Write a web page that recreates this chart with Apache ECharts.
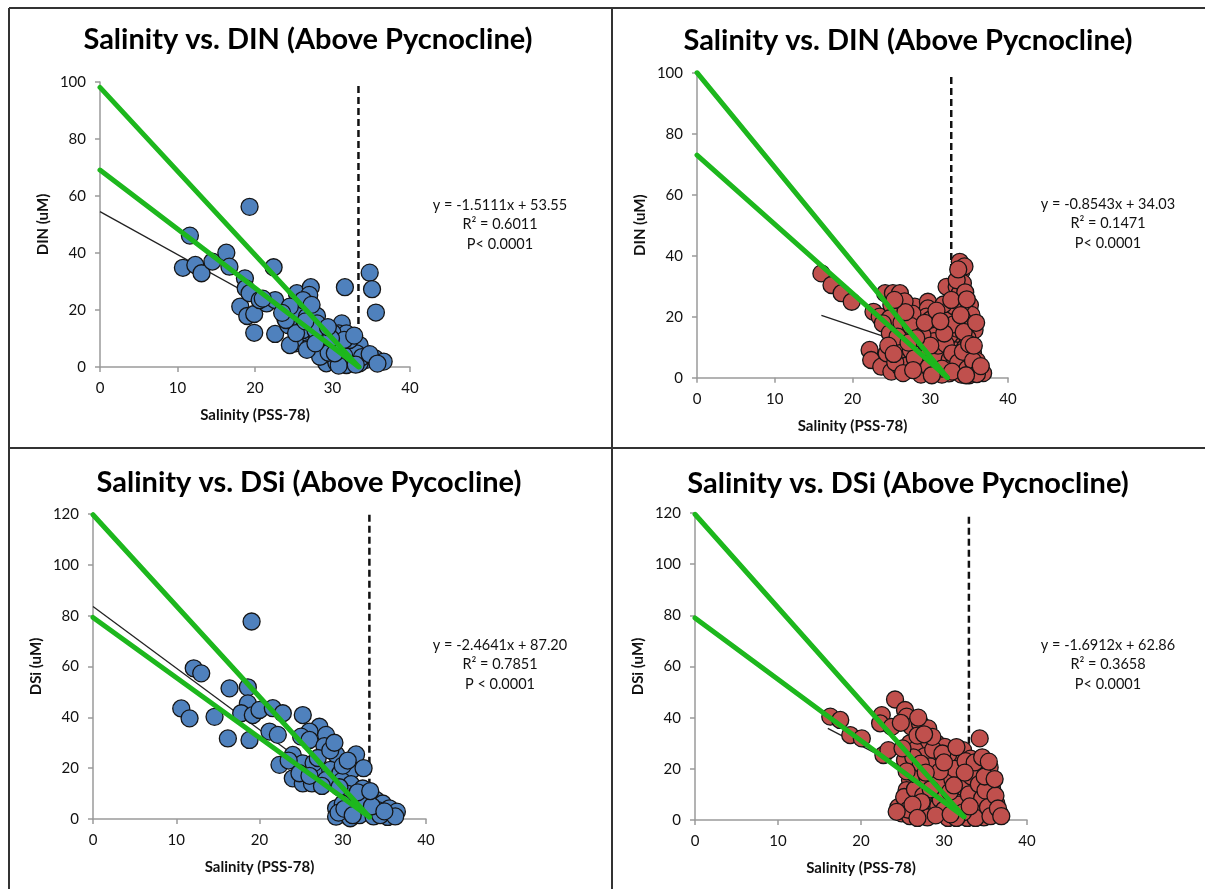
<!DOCTYPE html>
<html>
<head>
<meta charset="utf-8">
<script src="https://cdn.jsdelivr.net/npm/echarts@6/dist/echarts.min.js"></script>
<style>
  html, body { margin: 0; padding: 0; background: #fff; }
  #chart { width: 1205px; height: 889px; }
</style>
</head>
<body>
<div id="chart"></div>
<script>
// Panel titles and regression texts
var titles = [
    'Salinity vs. DIN (Above Pycnocline)',
    'Salinity vs. DIN (Above Pycnocline)',
    'Salinity vs. DSi (Above Pycocline)',
    'Salinity vs. DSi (Above Pycnocline)'
];
var yNames = ['DIN (uM)', 'DIN (uM)', 'DSi (uM)', 'DSi (uM)'];
var eqTexts = [
    ['y = -1.5111x + 53.55', 'R\u00b2 = 0.6011', 'P< 0.0001'],
    ['y = -0.8543x + 34.03', 'R\u00b2 = 0.1471', 'P< 0.0001'],
    ['y = -2.4641x + 87.20', 'R\u00b2 = 0.7851', 'P < 0.0001'],
    ['y = -1.6912x + 62.86', 'R\u00b2 = 0.3658', 'P< 0.0001']
];
var yMaxes = [100, 100, 120, 120];

// Scatter points [salinity, concentration]
var dinAboveA = [
    [19.3,56.2],[11.6,46.1],[10.7,34.8],[12.3,35.8],[13.1,32.9],[14.5,37],[16.3,40.1],[16.7,35.2],
    [22.4,35],[18.7,31.1],[18.8,27.6],[18.1,21.2],[19,17.9],[19.9,18.6],[19.9,12],[22.6,11.6],
    [21.5,22.3],[22.6,23.5],[19.3,25.9],[20.6,23.5],[25.4,25.9],[27.2,28],[27,25.3],[25.8,22.3],
    [24.7,20],[23.9,17.1],[25.4,19.4],[26.7,17.6],[28,17.9],[24.3,14.7],[25.4,11.8],[26.7,10.6],
    [25.2,8.3],[26.9,6.6],[28.4,10.6],[29.2,7.7],[31.2,15.3],[30.8,11.8],[31.8,11.8],[31.6,28],
    [34.8,33.1],[35.1,27.3],[35.6,19.1],[30.1,6],[29.7,3],[31,2.5],[32.7,7.1],[33.5,7.7],
    [32.5,3],[34.4,2.5],[35.5,3],[36.6,1.9],[29.2,1.3],[31.8,0.7],[33.5,1.3],[26.2,23.5],
    [27.3,21.8],[24.5,21.2],[28,15.3],[26.2,13],[28,10.6],[28.8,6],[30.3,9.5],[31.2,7.1],
    [32,4.8],[33.1,4.8],[30.2,3.5],[28.4,3.6],[24.5,7.7],[26.7,6],[25.3,11.9],[24,16.5],
    [30.5,1.5],[31.5,4],[29.5,5],[32.2,9.5],[30,12],[27.8,13],[26.5,16],[21,24],[23.5,19],
    [30.8,0.5],[30.3,4.8],[31.5,9.5],[32.8,11],[33.8,3.5],[34.8,4.5],[35.8,1.2],[29.8,10],
    [29.4,14],[27.8,8.3],[33,0.8]
];
var dinAboveB = [
    [16,34.2],[17.3,30.4],[18.6,27.7],[19.9,24.9],[22.7,21.6],[23.5,20],[22.2,9.1],[22.4,5.8],
    [23.7,3.6],[25,2],[26.1,3.6],[24.2,27.7],[25.2,27.7],[26.1,27.7],[25,23.8],[26.1,21.6],
    [28,23.3],[29.7,24.9],[29.7,22.7],[28,19.5],[25.7,16.2],[26.1,12.4],[27.4,14.6],[29.1,16.7],
    [30.8,17.8],[32.1,17.3],[32.1,29.8],[33.4,29.8],[33.8,38],[34,34.8],[34.2,31],[33.8,27.7],
    [35.1,23.8],[35.3,20.6],[34.2,18.9],[35.7,15.6],[33.8,12.4],[31.9,12.4],[30.4,9.1],[28.9,9.1],
    [27.4,6.9],[28.2,3.1],[30.2,2.7],[31.2,4.7],[34.7,6.9],[35.1,4.2],[36.4,2.5],[33.4,2.5],
    [32.4,1.4],[35.8,1.4],[29.5,20],[27,18.9],[24.8,19.5],[23.9,17.8],[24.8,14.6],[27.8,10.2],
    [30.6,14.6],[26.1,6.9],[24.4,8],[29.6,6.9],[26.5,9],[27,4],[29,1.5],[30,5],[31,7.5],
    [32.5,6],[33.2,9],[34.5,10],[35.5,8],[36,5.5],[34,1],[31.5,1],[28.5,12.5],[29.5,11.5],
    [31,10.5],[32.5,14],[33.5,16],[34.8,13],[36.2,3],[33,4],[30.5,16],[28.7,16],[27.7,21],
    [26.7,25],[31.2,20.5],[32.8,21],[33.4,32],[34.5,28],[34,24],[25.5,10.5],[26.8,15],
    [36.8,1.5],[35,0.8],[29,3.5],
    [25.5,5],[26.5,1.5],[27.5,9],[28,6.5],[28.8,1],[29.8,3.5],[30.5,12],[31.5,3],[32,11],
    [32.8,8],[33.6,5],[34.2,8.5],[34.8,3],[35.5,5.5],[36,1.2],[33,17.5],[34.3,15],[35,11],
    [33,23.5],[30,19],[31.7,24],[26.3,18],[25.8,13.5],[27.5,17],[29,14],[30,10.5],[31.8,14.5],
    [32.8,2],[35.6,10.5],[34.6,0.8],[36.5,3.8],[28.2,13],[27.2,11.5],[29.3,18],[30.8,22],
    [26.8,21.5],[24.6,10.5],[25.4,25.5],[32.7,25.5],[34.7,25.7],[33.9,20.5],[35.9,18],
    [30.2,0.8],[27.8,2.5],[25.3,7.8],[31.3,18.5],[34.4,36.5],[33.6,35.5]
];
var dsiAboveA = [
    [19.05,77.7],[12.1,59.3],[13,57.3],[10.6,43.5],[11.6,39.6],[14.6,40.2],[16.4,51.4],[18.6,51.8],
    [16.2,31.7],[18.8,31.1],[18.6,45.5],[17.8,41.6],[19.2,40.9],[20,42.9],[21.6,43.6],[22.8,41.6],
    [21.2,34.4],[22.2,33.1],[25.2,40.9],[27.2,36.3],[28,33.1],[26,34.4],[25,32.4],[26,31.1],
    [27.8,28.7],[29.2,25.4],[31.6,25.4],[22.4,21.3],[24,25.2],[24,16],[25.2,14],[26.3,14],
    [25.2,21.9],[26.9,19.3],[26.5,22],[28.5,19.3],[29.7,18],[31.1,19.3],[28,15.4],[29.9,15],
    [31,13.7],[32.4,12],[33.2,8.7],[32.4,7.5],[34,7.5],[34.8,6.1],[35.6,4.2],[36.5,2.9],
    [29.2,4.2],[29.2,0.9],[30.4,2.2],[31.6,3.5],[30.9,0.3],[34.2,3.5],[35.4,0.8],[23.5,23],
    [24.8,18],[27,24],[28.5,27],[30,21],[30.5,10],[31.5,9],[33,4],[32,1.5],[33.7,1],[30,6],
    [29.6,12.5],[27.5,13],[26,17],[29,30],[32.5,20],[30.6,23],[34.5,1.5],[36.3,1],
    [29.5,2.5],[30.2,4],[31.2,1.5],[32.8,6],[33.5,5],[35,3],[31.8,10.5],[33.3,11]
];
var dsiAboveB = [
    [24.1,47.1],[16.3,40.4],[17.5,39.1],[18.7,33.2],[20.1,31.9],[22.5,41],[22.3,37.8],[22.7,25.4],
    [23.3,27.3],[23.7,36.4],[25.3,43],[25.5,40.4],[26.1,36.4],[27.1,37.8],[28.1,35.8],[27.9,30],
    [25.9,30],[25.3,23.4],[26.5,27.3],[29.1,30],[30.1,28.6],[32.3,27.3],[34.3,31.9],[29.9,20.8],
    [31.5,22.1],[28.7,16.9],[31.9,15.6],[34.7,20.8],[35.1,18.2],[34.5,22],[35.7,15.6],[26.7,20.8],
    [25.9,15.6],[25.5,11.7],[27.5,13],[29.9,11.7],[32.7,11.1],[35.3,9.1],[36.3,6.5],[25.1,6.5],
    [24.9,2.6],[25.9,1.5],[26.9,7.1],[28.3,5.2],[29.5,2.6],[31.1,4.6],[33.5,7.8],[33.5,2.6],
    [35.1,2.6],[36.7,2.6],[31.9,1.3],[27.3,2.6],[26,9],[27,4.5],[28.5,8.5],[30.5,7],[32,8.5],
    [33,14],[34,17],[35.8,12],[30.8,18],[29,24],[27.7,25],[28.3,21],[31,25],[33.2,24],
    [30.2,13.5],[28,1],[30.5,0.8],[32.5,4],[34.3,5.5],[36,3.5],[34,11],[31.7,10],[26.3,24.5],
    [24.5,5],[35.5,20.5],[33.5,19.5],[29.3,5.5],[32.8,0.8],[34.8,1],
    [25.2,9],[25.7,4],[26.5,12],[26.5,18],[27.2,22],[27.5,9.5],[28,16.5],[28.7,27.5],[29.2,15],
    [29.6,8],[30,4],[30.5,25.5],[31,16],[31.3,20],[31.8,6],[32.2,13],[32.6,23],[33,10],
    [33.3,17],[33.8,0.8],[34.2,14],[34.6,8.5],[35,11.5],[35.3,5],[35.6,1.5],[36.2,9.5],
    [36.5,4.5],[34.9,17],[33.7,22.5],[32.3,3],[31.5,0.8],[30.7,11],[29.5,19],[28.4,12],
    [27.3,7],[26.2,6],[25.5,19],[26.8,33],[28.6,32.5],[29.8,26],[31.5,28.5],[32.5,18.5],
    [34.6,24.5],[35.4,22.8],[36.1,16],[24.3,3.2],[26.8,0.8],[29,1.8],[30.8,2.2],[33.1,5.3],
    [36.9,1.5],[27.8,18.5],[30,22.5],[31.2,13.5],[25,28],[24.8,38],[26.9,40],[27.6,33.5]
];

// Line endpoints
var trendLines = [
    [[0, 54.5], [36.2, 0]],
    [[16, 20.4], [37, 2.4]],
    [[0, 83.6], [34.5, 0]],
    [[16, 35.8], [36.5, 1.1]]
];
var greenUpper = [
    [[0, 98.1], [33.4, 0]],
    [[0, 100], [32.2, 0]],
    [[0, 119.7], [33.2, 0.8]],
    [[0, 119.5], [32.4, 1.3]]
];
var greenLower = [
    [[0, 69.1], [33.4, 0]],
    [[0, 73], [32.2, 0]],
    [[0, 79.3], [33.2, 0.8]],
    [[0, 79], [32.4, 1.3]]
];
var pycnocline = [
    [[33.35, 98.6], [33.35, 0]],
    [[32.7, 98.6], [32.7, 0]],
    [[33.2, 119.7], [33.2, 0]],
    [[33.0, 118.5], [33.0, 0]]
];

var scatterData = [dinAboveA, dinAboveB, dsiAboveA, dsiAboveB];
var pointColors = ['#4F81BD', '#C0504D', '#4F81BD', '#C0504D'];

var grids = [
    { left: 100, top: 82, width: 310, height: 285 },
    { left: 697, top: 72.7, width: 311, height: 305 },
    { left: 93, top: 514, width: 333, height: 305 },
    { left: 695, top: 513, width: 332, height: 307 }
];
var titlePos = [[308, 40], [908, 41], [309, 483], [908, 484]];
var eqPos = [[500, 205], [1108, 204], [500, 645], [1108, 645]];

var FONT = 'Lato';
var axisColor = '#9a9a9a';

var xAxes = [], yAxes = [], series = [], graphics = [];

grids.forEach(function(g, i) {
    xAxes.push({
        gridIndex: i, type: 'value', min: 0, max: 40, interval: 10,
        name: 'Salinity (PSS-78)', nameLocation: 'middle', nameGap: 41,
        nameTextStyle: { fontFamily: FONT, fontWeight: 'bold', fontSize: 15, color: '#111' },
        axisLine: { lineStyle: { color: axisColor, width: 1.5 } },
        axisTick: { show: true, length: 5, lineStyle: { color: axisColor, width: 1.5 } },
        axisLabel: { margin: 14, fontFamily: FONT, fontSize: 15, color: '#111' },
        splitLine: { show: false }
    });
    yAxes.push({
        gridIndex: i, type: 'value', min: 0, max: yMaxes[i], interval: 20,
        name: yNames[i], nameLocation: 'middle', nameGap: 49, nameRotate: 90,
        nameTextStyle: { fontFamily: FONT, fontWeight: 'bold', fontSize: 15, color: '#111' },
        axisLine: { show: true, lineStyle: { color: axisColor, width: 1.5 } },
        axisTick: { show: true, length: 5, lineStyle: { color: axisColor, width: 1.5 } },
        axisLabel: { margin: 14, fontFamily: FONT, fontSize: 15, color: '#111' },
        splitLine: { show: false }
    });

    series.push({
        type: 'line', xAxisIndex: i, yAxisIndex: i, data: pycnocline[i],
        symbol: 'none', z: 1, silent: true,
        lineStyle: { color: '#111', width: 2.5, type: [7, 4] }
    });
    series.push({
        type: 'line', xAxisIndex: i, yAxisIndex: i, data: trendLines[i],
        symbol: 'none', z: 1, silent: true,
        lineStyle: { color: '#222', width: 1.3 }
    });
    series.push({
        type: 'scatter', xAxisIndex: i, yAxisIndex: i, data: scatterData[i],
        symbol: 'circle', symbolSize: 17, z: 2,
        itemStyle: { color: pointColors[i], borderColor: '#151515', borderWidth: 1.3, opacity: 1 }
    });
    [greenUpper[i], greenLower[i]].forEach(function(d) {
        series.push({
            type: 'line', xAxisIndex: i, yAxisIndex: i, data: d,
            symbol: 'none', z: 3, silent: true,
            lineStyle: { color: '#1DB71D', width: 5, cap: 'round' }
        });
    });

    graphics.push({
        type: 'text', x: titlePos[i][0], y: titlePos[i][1],
        style: {
            text: titles[i], fontFamily: FONT, fontWeight: 'bold', fontSize: 29,
            fill: '#000', align: 'center', verticalAlign: 'middle'
        }
    });
    eqTexts[i].forEach(function(t, k) {
        graphics.push({
            type: 'text', x: eqPos[i][0], y: eqPos[i][1] + k * 19.5,
            style: {
                text: t, fontFamily: FONT, fontSize: 14.5, fill: '#111',
                align: 'center', verticalAlign: 'middle'
            }
        });
    });
});

// panel borders
var borderStyle = { stroke: '#333', lineWidth: 2 };
[
    [9, 8, 1205, 8],
    [9, 8, 9, 889],
    [612, 8, 612, 889],
    [9, 448, 1205, 448]
].forEach(function(s) {
    graphics.push({
        type: 'line', shape: { x1: s[0], y1: s[1], x2: s[2], y2: s[3] },
        style: borderStyle, z: 10
    });
});

var chart = echarts.init(document.getElementById('chart'));
chart.setOption({
    backgroundColor: '#fff',
    animation: false,
    grid: grids,
    xAxis: xAxes,
    yAxis: yAxes,
    series: series,
    graphic: graphics
});
</script>
</body>
</html>
